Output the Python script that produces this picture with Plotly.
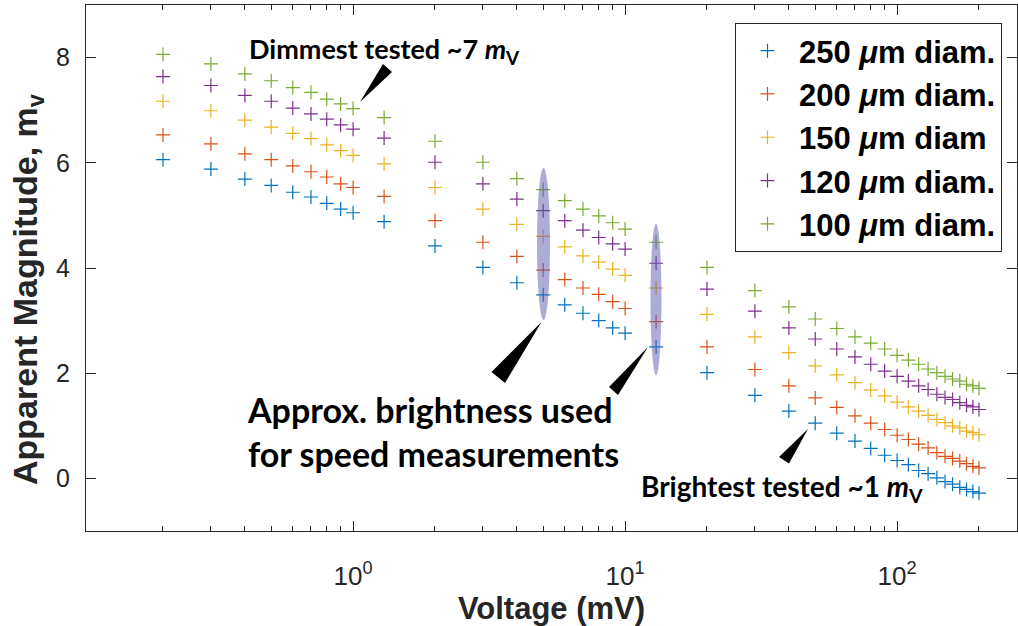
import plotly.graph_objects as go
import math

voltage = [0.2, 0.3, 0.4, 0.5, 0.6, 0.7, 0.8, 0.9, 1.0, 1.3, 2, 3, 4, 5, 6, 7, 8, 9, 10, 13,
           20, 30, 40, 50, 60, 70, 80, 90, 100, 110, 120, 130, 140, 150, 160, 170, 180, 190, 200]

mag_250 = [6.06, 5.88, 5.69, 5.57, 5.44, 5.35, 5.23, 5.12, 5.05, 4.88, 4.42, 4.01, 3.72, 3.49, 3.30,
           3.14, 3.00, 2.86, 2.76, 2.50, 2.01, 1.58, 1.28, 1.05, 0.86, 0.71, 0.57, 0.44, 0.34, 0.26,
           0.15, 0.09, 0.01, -0.06, -0.11, -0.17, -0.21, -0.25, -0.28]
mag_200 = [6.53, 6.36, 6.17, 6.06, 5.94, 5.83, 5.73, 5.60, 5.53, 5.36, 4.90, 4.49, 4.22, 3.96, 3.78,
           3.62, 3.50, 3.36, 3.23, 2.98, 2.50, 2.07, 1.76, 1.53, 1.35, 1.19, 1.05, 0.93, 0.82, 0.74,
           0.65, 0.58, 0.49, 0.42, 0.38, 0.33, 0.28, 0.23, 0.20]
mag_150 = [7.17, 6.99, 6.81, 6.68, 6.56, 6.46, 6.34, 6.23, 6.14, 5.98, 5.53, 5.12, 4.83, 4.60, 4.40,
           4.23, 4.11, 3.98, 3.86, 3.62, 3.12, 2.69, 2.39, 2.14, 1.97, 1.82, 1.68, 1.57, 1.45, 1.36,
           1.28, 1.20, 1.12, 1.06, 1.00, 0.96, 0.90, 0.87, 0.83]
mag_120 = [7.64, 7.47, 7.28, 7.17, 7.04, 6.93, 6.83, 6.72, 6.64, 6.47, 6.01, 5.60, 5.31, 5.09, 4.90,
           4.72, 4.58, 4.46, 4.36, 4.09, 3.60, 3.18, 2.86, 2.65, 2.46, 2.31, 2.17, 2.04, 1.94, 1.85,
           1.76, 1.69, 1.60, 1.54, 1.50, 1.44, 1.39, 1.36, 1.31]
mag_100 = [8.06, 7.88, 7.69, 7.56, 7.43, 7.34, 7.21, 7.12, 7.03, 6.86, 6.41, 6.01, 5.70, 5.49, 5.28,
           5.12, 4.99, 4.86, 4.74, 4.49, 4.01, 3.57, 3.26, 3.03, 2.85, 2.69, 2.57, 2.46, 2.34, 2.25,
           2.17, 2.08, 2.01, 1.94, 1.89, 1.85, 1.79, 1.76, 1.71]

series_names = ["<b>250 <i>μ</i>m diam.</b>", "<b>200 <i>μ</i>m diam.</b>", "<b>150 <i>μ</i>m diam</b>",
                "<b>120 <i>μ</i>m diam.</b>", "<b>100 <i>μ</i>m diam.</b>"]
series_vals = [mag_250, mag_200, mag_150, mag_120, mag_100]
colors = ["#0072BD", "#D95319", "#EDB120", "#7E2F8E", "#77AC30"]

x_tickvals = [1, 10, 100]
x_ticktext = ["10<sup>0</sup>", "10<sup>1</sup>", "10<sup>2</sup>"]
x_minor = [0.2, 0.3, 0.4, 0.5, 0.6, 0.7, 0.8, 0.9, 2, 3, 4, 5, 6, 7, 8, 9,
           20, 30, 40, 50, 60, 70, 80, 90, 200]
y_tickvals = [0, 2, 4, 6, 8]

W, H = 1018, 626
ML, MR, MT, MB = 86, 1, 5, 95
PW, PH = W - ML - MR, H - MT - MB
DEC = 272.0
x_lo = -0.982
x_hi = x_lo + PW / DEC


def px(x):
    return (x - ML) / PW


def py(y):
    return (H - MB - y) / PH


fig = go.Figure()
for name, vals, c in zip(series_names, series_vals, colors):
    fig.add_trace(go.Scatter(
        x=voltage, y=vals, mode="markers", name=name, legendgroup=name,
        marker=dict(symbol="cross-thin", size=10, color=c, line=dict(width=1.2, color=c)),
    ))

shapes = []
# ellipses (highlight)
for (x0, x1, y0, y1) in [(537, 550, 168, 320), (650.5, 661.5, 224, 375)]:
    shapes.append(dict(type="circle", xref="paper", yref="paper",
                       x0=px(x0), x1=px(x1), y0=py(y1), y1=py(y0),
                       fillcolor="rgba(90,90,175,0.5)", line=dict(width=0), layer="above"))
# wedges
wedges = [
    [(360, 102), (383, 64), (392, 72)],
    [(541.5, 322), (491.5, 372), (505, 383)],
    [(648, 347), (609, 387), (618, 395)],
    [(808, 429), (779, 457), (789, 463.5)],
]
for w in wedges:
    path = "M " + " L ".join(f"{px(a):.5f},{py(b):.5f}" for a, b in w) + " Z"
    shapes.append(dict(type="path", xref="paper", yref="paper", path=path,
                       fillcolor="black", line=dict(width=0, color="black"), layer="above"))

axis_color = "#262626"
ann_font = "Lato, 'Open Sans', sans-serif"
annotations = [
    dict(text="<b>Dimmest tested ~7 <i>m</i><sub>V</sub></b>", x=px(247), y=py(50),
         xref="paper", yref="paper", xanchor="left", yanchor="middle", showarrow=False,
         font=dict(family=ann_font, size=27, color="black")),
    dict(text="<b>Approx. brightness used<br>for speed measurements</b>", x=px(245), y=py(431),
         xref="paper", yref="paper", xanchor="left", yanchor="middle", align="left", showarrow=False,
         font=dict(family=ann_font, size=34, color="black")),
    dict(text="<b>Brightest tested ~1 <i>m</i><sub>V</sub></b>", x=px(639), y=py(488),
         xref="paper", yref="paper", xanchor="left", yanchor="middle", showarrow=False,
         font=dict(family=ann_font, size=28, color="black")),
    # y-axis title
    dict(text="<b>Apparent Magnitude, m<sub>v</sub></b>", x=px(27), y=py(289),
         xref="paper", yref="paper", xanchor="center", yanchor="middle", textangle=-90,
         showarrow=False,
         font=dict(family="Liberation Sans, Arial, sans-serif", size=34, color=axis_color)),
]

fig.update_layout(
    width=W, height=H,
    margin=dict(l=ML, r=MR, t=MT, b=MB),
    paper_bgcolor="white", plot_bgcolor="white",
    font=dict(family="Liberation Sans, Arial, sans-serif", color=axis_color),
    showlegend=True,
    legend=dict(x=px(735), y=py(23), xanchor="left", yanchor="top",
                bordercolor=axis_color, borderwidth=1, bgcolor="white",
                font=dict(family="Liberation Sans, Arial, sans-serif", size=31, color="black"),
                traceorder="grouped", tracegroupgap=0, itemwidth=53),
    xaxis=dict(type="log", range=[x_lo, x_hi], showgrid=False, zeroline=False, automargin=False,
               showline=True, linecolor=axis_color, linewidth=1, mirror="allticks",
               ticks="inside", ticklen=10, tickcolor=axis_color, tickwidth=1,
               tickmode="array", tickvals=x_tickvals, ticktext=x_ticktext,
               tickfont=dict(size=26, color=axis_color), ticklabelstandoff=22,
               minor=dict(tickmode="array", tickvals=x_minor, ticks="inside", ticklen=5,
                          tickcolor=axis_color, tickwidth=1, showgrid=False),
               title=dict(text="<b>Voltage (mV)</b>", font=dict(size=31, color=axis_color), standoff=2)),
    yaxis=dict(range=[-1, 9], showgrid=False, zeroline=False, automargin=False,
               showline=True, linecolor=axis_color, linewidth=1, mirror="allticks",
               ticks="inside", ticklen=10, tickcolor=axis_color, tickwidth=1,
               tickmode="array", tickvals=y_tickvals,
               tickfont=dict(size=25, color=axis_color), ticklabelstandoff=10),
    shapes=shapes, annotations=annotations,
)

fig.write_html("out.html", config={"displayModeBar": False},
               post_script="document.body.style.margin='0px';")
